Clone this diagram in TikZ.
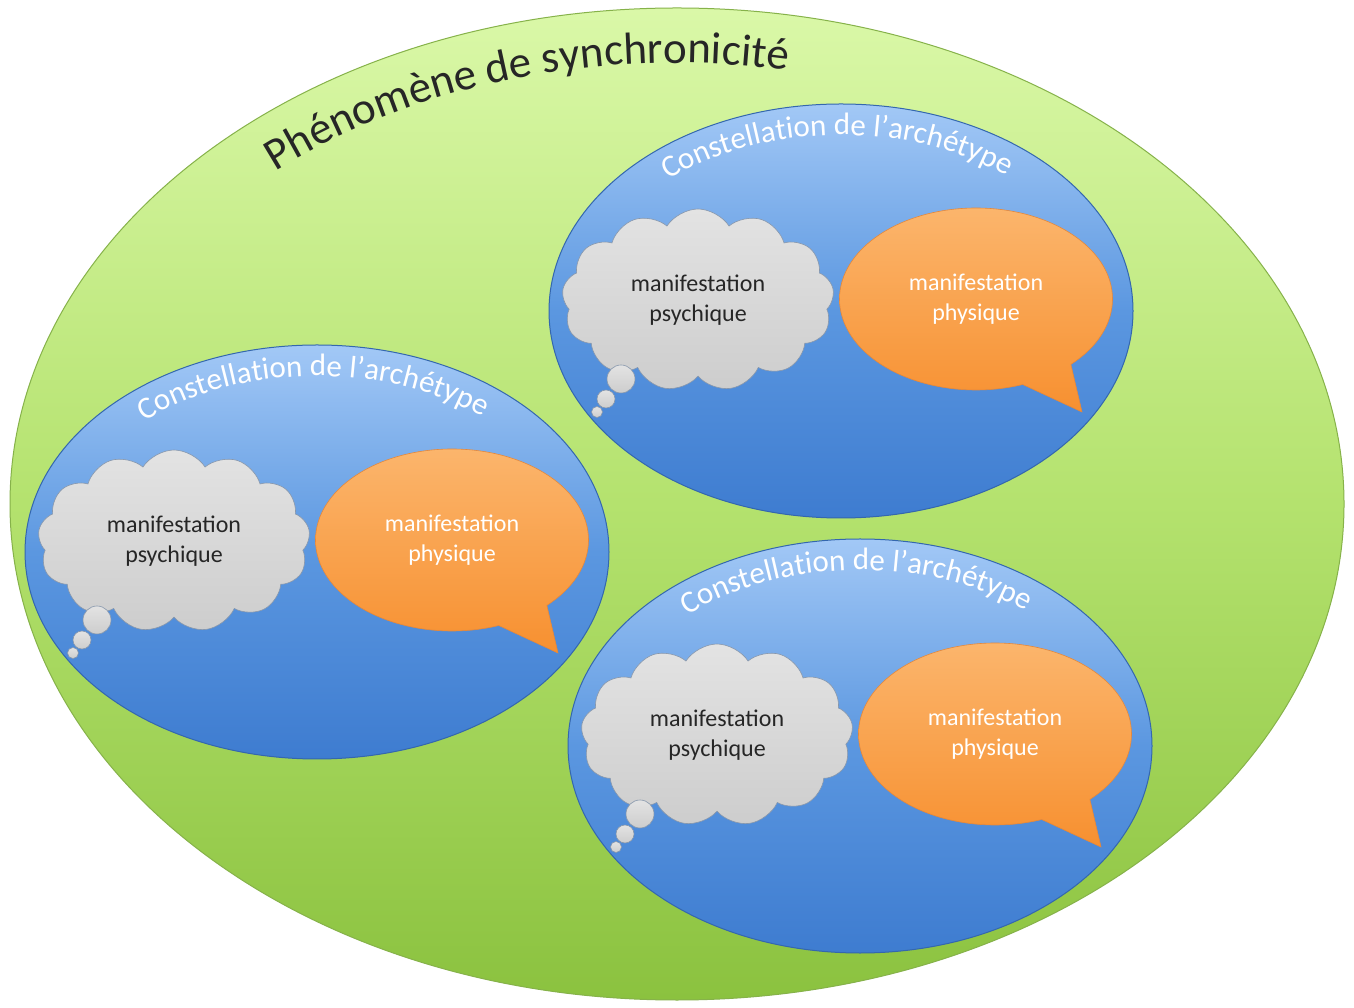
\documentclass[tikz,border=0pt]{standalone}
\usepackage{fontspec}
\setmainfont{Carlito}
\usetikzlibrary{shapes.symbols,shapes.callouts,shapes.geometric,decorations.text,calc}

\definecolor{grT}{HTML}{DAF8A8}
\definecolor{grM}{HTML}{B4E26E}
\definecolor{grB}{HTML}{8BC23F}
\definecolor{grE}{HTML}{86B24A}
\definecolor{blT}{HTML}{A2C8F6}
\definecolor{blM}{HTML}{5B97E0}
\definecolor{blB}{HTML}{3E7CD0}
\definecolor{blE}{HTML}{3467AE}
\definecolor{orT}{HTML}{FBB56C}
\definecolor{orB}{HTML}{F79030}
\definecolor{orE}{HTML}{E6883A}
\definecolor{cgT}{HTML}{E3E3E3}
\definecolor{cgB}{HTML}{CDCDCD}
\definecolor{cgE}{HTML}{8797AC}
\definecolor{ink}{HTML}{262626}

\newcommand\titlefont{\fontsize{45}{52}\selectfont}
\newcommand\consfont{\fontsize{31}{37}\selectfont}

\tikzset{
  outerell/.style={ellipse, draw=grE, line width=1pt, top color=grT, bottom color=grB, middle color=grM,
    inner sep=0pt, minimum width=1334pt, minimum height=992pt},
  blueell/.style={ellipse, draw=blE, line width=1pt, top color=blT, bottom color=blB, middle color=blM,
    inner sep=0pt, minimum width=584pt, minimum height=414pt},
  thought/.style={cloud, cloud puffs=13, cloud puff arc=115, cloud ignores aspect, draw=cgE, line width=0.6pt,
    top color=cgT, bottom color=cgB, inner sep=0pt, minimum width=272pt, minimum height=182pt,
    align=center, text=ink, font=\fontsize{24}{30}\selectfont},
  bubble/.style={circle, draw=cgE, line width=0.6pt, top color=cgT, bottom color=cgB, inner sep=0pt},
  speech/.style={ellipse callout, callout pointer arc=24, draw=orE, line width=0.6pt,
    top color=orT, bottom color=orB, inner sep=0pt, minimum width=273pt, minimum height=182pt,
    align=center, text=white, font=\fontsize{24}{30}\selectfont},
}

\newcommand\constel[3]{%
  \begin{scope}[shift={(#2,#3)}]
    \node[blueell] (#1) at (0,0) {};
    \path[decorate, decoration={text along path, text align=center,
        text color=white, text={|\consfont|Constellation de l’archétype}}]
      (140:258pt and 176pt) arc[start angle=140, end angle=42, x radius=258pt, y radius=176pt];
    \node[thought] (#1c) at (-143,11) {manifestation\\psychique};
    \node[bubble, minimum size=28pt] (#1b1) at (-220,-68) {};
    \node[bubble, minimum size=18pt] (#1b2) at (-235,-88) {};
    \node[bubble, minimum size=11pt] (#1b3) at (-244,-101) {};
    \coordinate (#1t) at (241,-101);
    \node[speech, callout absolute pointer={(#1t)}] (#1s) at (135,12) {manifestation\\physique};
  \end{scope}}

\begin{document}
\begin{tikzpicture}[x=1pt,y=1pt]
  \useasboundingbox (0,0) rectangle (1354,1007);
  \fill[white] (0,0) rectangle (1354,1007);
  \node[outerell] (phen) at (677,503) {};
  \path[decorate, decoration={text along path, text align=left,
      text color=ink, text={|\titlefont|Phénomène de synchronicité}}]
    ($(phen.center)+(131:612pt and 441pt)$) arc[start angle=131, end angle=66, x radius=612pt, y radius=441pt];
  \constel{A}{841}{696}
  \constel{B}{317}{455}
  \constel{C}{860}{261}
\end{tikzpicture}
\end{document}
